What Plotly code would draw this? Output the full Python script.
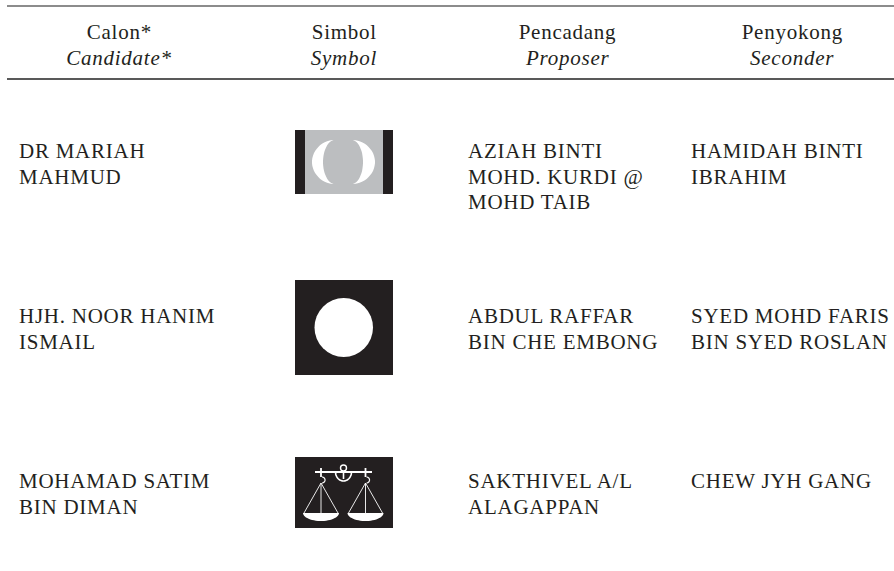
import plotly.graph_objects as go
import numpy as np

W, H = 894, 571
FONT = "Liberation Serif"
INK = "#231f20"
FS = 21
SPACING = 0.75

headers = [("Calon*", "Candidate*", 119), ("Simbol", "Symbol", 344),
           ("Pencadang", "Proposer", 567), ("Penyokong", "Seconder", 792)]
candidates = [["DR MARIAH", "MAHMUD"], ["HJH. NOOR HANIM", "ISMAIL"], ["MOHAMAD SATIM", "BIN DIMAN"]]
proposers = [["AZIAH BINTI", "MOHD. KURDI @", "MOHD TAIB"], ["ABDUL RAFFAR", "BIN CHE EMBONG"], ["SAKTHIVEL A/L", "ALAGAPPAN"]]
seconders = [["HAMIDAH BINTI", "IBRAHIM"], ["SYED MOHD FARIS", "BIN SYED ROSLAN"], ["CHEW JYH GANG"]]
row_tops = [151, 316, 481]
col_x = {"cand": 17, "prop": 466, "sec": 689}
LH = 25.5

fig = go.Figure()
shapes, annos = [], []

def text(x, y, s, anchor="left", italic=False):
    annos.append(dict(x=x, y=y, xref="x", yref="y", text=f"<i>{s}</i>" if italic else s,
                      showarrow=False, xanchor=anchor, yanchor="middle",
                      font=dict(family=FONT, size=FS, color=INK)))

def rect(x0, y0, x1, y1, c):
    shapes.append(dict(type="rect", x0=x0, y0=y0, x1=x1, y1=y1, xref="x", yref="y",
                       fillcolor=c, line=dict(width=0), layer="above"))

def ln(x0, y0, x1, y1, w=1, c="white"):
    shapes.append(dict(type="line", x0=x0, y0=y0, x1=x1, y1=y1, xref="x", yref="y",
                       line=dict(color=c, width=w), layer="above"))

def path(d, c):
    shapes.append(dict(type="path", path=d, xref="x", yref="y", fillcolor=c, line=dict(width=0), layer="above"))

def arc_pts(cx, cy, rx, ry, a0, a1, n=28):
    a = np.radians(np.linspace(a0, a1, n))
    return list(zip(cx + rx * np.cos(a), cy + ry * np.sin(a)))

def poly(pts):
    return "M " + " L ".join(f"{x:.1f},{y:.1f}" for x, y in pts) + " Z"

# rules
for y, c, w in [(6, "#666666", 1.6), (79, "#222222", 1.4)]:
    ln(7, y, 894, y, w, c)

for top, bottom, x in headers:
    text(x, 32, top, "center")
    text(x, 58, bottom, "center", True)

for i, y in enumerate(row_tops):
    for k, col in [("cand", candidates), ("prop", proposers), ("sec", seconders)]:
        for j, s in enumerate(col[i]):
            text(col_x[k], y + j * LH, s)

# symbol 1: crescents
rect(295, 130, 393, 194, "#bcbec0")
rect(295, 130, 305, 194, INK)
rect(383, 130, 393, 194, INK)
path(poly(arc_pts(335, 162, 23, 22, 90, 270) + arc_pts(335, 162, 12, 22, 270, 90)), "white")
path(poly(arc_pts(351.5, 162, 23.5, 22, -90, 90) + arc_pts(351.5, 162, 11.5, 22, 90, -90)), "white")

# symbol 2: circle
rect(295, 280, 393, 375, INK)
shapes.append(dict(type="circle", x0=314.5, x1=373, y0=298, y1=357, xref="x", yref="y",
                   fillcolor="white", line=dict(width=0), layer="above"))

# symbol 3: scales
rect(295, 457, 393, 528, INK)
ln(315, 472, 372, 472, 2)
ln(321, 468, 321, 477, 1.8)
ln(365.5, 468, 365.5, 477, 1.8)
shapes.append(dict(type="circle", x0=340.5, x1=346.5, y0=465, y1=471, xref="x", yref="y",
                   line=dict(color="white", width=1.4), layer="above"))
ln(343.5, 471, 343.5, 479, 1.6)
shapes.append(dict(type="path", path=poly(arc_pts(343.5, 472, 8, 9, 0, 180)).replace(" Z", ""),
                   xref="x", yref="y", line=dict(color="white", width=1.6), layer="above"))
for cx in (321, 365.5):
    shapes.append(dict(type="path", path=poly(arc_pts(cx + 1, 480, 3, 3, -90, 90)).replace(" Z", ""),
                       xref="x", yref="y", line=dict(color="white", width=1.2), layer="above"))
    ln(cx, 483, cx - 17, 513, 0.9)
    ln(cx, 483, cx, 513, 0.9)
    ln(cx, 483, cx + 17, 513, 0.9)
    path(poly([(cx - 18, 513), (cx + 18, 513)] + arc_pts(cx, 513, 18, 8, 0, 180)), "white")

fig.update_layout(
    width=W, height=H, margin=dict(l=0, r=0, t=0, b=0),
    paper_bgcolor="white", plot_bgcolor="white", showlegend=False,
    shapes=shapes, annotations=annos,
    xaxis=dict(range=[0, W], visible=False, fixedrange=True),
    yaxis=dict(range=[H, 0], visible=False, fixedrange=True),
)
fig.add_trace(go.Scatter(x=[], y=[]))
post = """
document.body.style.margin='0';document.body.style.overflow='hidden';
var gd=document.querySelector('.plotly-graph-div');
gd.querySelectorAll('g.annotation').forEach(function(g){
  var i=+g.getAttribute('data-index'), t=g.querySelector('text.annotation-text');
  if(!t)return;
  var b=t.getBBox();
  if(gd.layout.annotations[i].xanchor==='left'){t.setAttribute('text-anchor','start');t.setAttribute('x',b.x);t.style.textAnchor='start';}
  t.style.letterSpacing='%spx';
});
""" % SPACING
fig.write_html("out.html", config={"displayModeBar": False}, post_script=post)
